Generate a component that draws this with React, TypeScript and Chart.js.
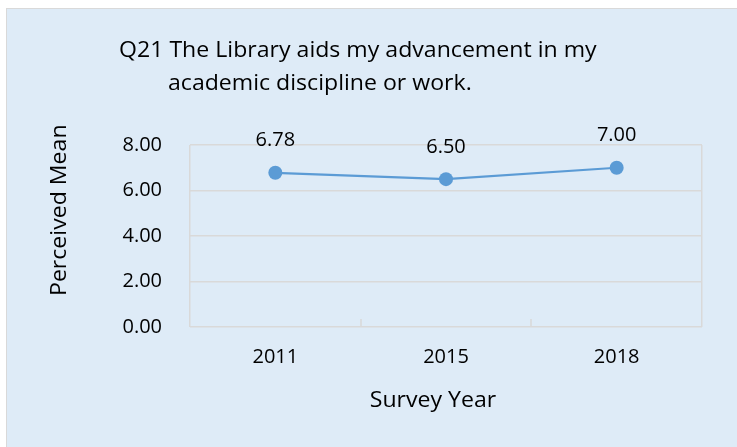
import React, { useEffect, useRef } from 'react';
import { Chart, registerables } from 'chart.js';

Chart.register(...registerables);

const categories = ['2011', '2015', '2018'];
const perceivedMean = [6.78, 6.5, 7.0];
const yMin = 0;
const yMax = 8;
const yStep = 2;
const titleLines = ['Q21 The Library aids my advancement in my', 'academic discipline or work.'];
const xAxisTitle = 'Survey Year';
const yAxisTitle = 'Perceived Mean';

const FONT = '"Open Sans", Calibri, Carlito, sans-serif';
const TEXT = '#000000';
const GRID = '#D9D9D9';
const LINE = '#5B9BD5';
const STRETCH = 1.1;

function drawText(ctx: any, text: string, x: number, y: number, align: string, rotate = 0) {
  ctx.save();
  ctx.translate(x, y);
  if (rotate) ctx.rotate(rotate);
  ctx.scale(STRETCH, 1);
  ctx.textAlign = align;
  ctx.textBaseline = 'alphabetic';
  ctx.fillText(text, 0, 0);
  ctx.restore();
}

const overlayPlugin = {
  id: 'overlayTexts',
  beforeDatasetsDraw(chart: any) {
    const ctx = chart.ctx;
    const xs = chart.scales.x;
    const area = chart.chartArea;
    ctx.save();
    ctx.strokeStyle = GRID;
    ctx.lineWidth = 1.5;
    ctx.beginPath();
    for (let i = 0; i < categories.length - 1; i++) {
      const px = Math.round((xs.getPixelForValue(i) + xs.getPixelForValue(i + 1)) / 2);
      ctx.moveTo(px, area.bottom);
      ctx.lineTo(px, area.bottom - 8);
    }
    ctx.stroke();
    ctx.restore();
  },
  afterDatasetsDraw(chart: any) {
    const ctx = chart.ctx;
    const meta = chart.getDatasetMeta(0);
    ctx.save();
    ctx.fillStyle = TEXT;
    ctx.font = `20px ${FONT}`;
    ctx.textAlign = 'center';
    ctx.textBaseline = 'middle';
    meta.data.forEach((pt: any, i: number) => {
      ctx.fillText(perceivedMean[i].toFixed(2), pt.x, pt.y - 32);
    });
    ctx.restore();
  },
  afterDraw(chart: any) {
    const ctx = chart.ctx;
    ctx.save();
    ctx.fillStyle = TEXT;
    ctx.font = `21px ${FONT}`;
    drawText(ctx, titleLines[0], 119, 57, 'left');
    drawText(ctx, titleLines[1], 168, 90, 'left');
    drawText(ctx, xAxisTitle, 433, 407, 'center');
    drawText(ctx, yAxisTitle, 66, 296, 'left', -Math.PI / 2);
    ctx.restore();
  },
};

export default function App() {
  const canvasRef = useRef<HTMLCanvasElement | null>(null);

  useEffect(() => {
    if (!canvasRef.current) return;
    const chart = new Chart(canvasRef.current, {
      type: 'line',
      data: {
        labels: categories,
        datasets: [
          {
            label: 'Perceived Mean',
            data: perceivedMean,
            borderColor: LINE,
            backgroundColor: LINE,
            borderWidth: 2.25,
            pointRadius: 7,
            pointBackgroundColor: LINE,
            pointBorderColor: LINE,
            pointBorderWidth: 0,
            tension: 0,
            clip: false as any,
          },
        ],
      },
      options: {
        animation: false,
        responsive: false,
        maintainAspectRatio: false,
        layout: { padding: { top: 145, right: 35, bottom: 0, left: 0 } },
        plugins: {
          legend: { display: false },
          tooltip: { enabled: false },
          title: { display: false },
        },
        scales: {
          x: {
            type: 'category',
            offset: true,
            grid: {
              offset: true,
              drawTicks: false,
              lineWidth: 1.5,
              color: (c: any) => (c.type !== 'tick' || c.index === 0 ? GRID : 'rgba(0,0,0,0)'),
            },
            border: { display: false },
            ticks: { padding: 18, color: TEXT, font: { family: FONT, size: 20 } },
            afterFit: (s: any) => {
              s.height = 120;
            },
          },
          y: {
            min: yMin,
            max: yMax,
            grid: { color: GRID, lineWidth: 1.5, drawTicks: false },
            border: { display: false },
            ticks: {
              stepSize: yStep,
              padding: 28,
              color: TEXT,
              font: { family: FONT, size: 20 },
              callback: (v: any) => Number(v).toFixed(2),
            },
            afterFit: (s: any) => {
              s.width = 190;
            },
          },
        },
      },
      plugins: [overlayPlugin],
    });
    return () => chart.destroy();
  }, []);

  return (
    <div style={{ position: 'fixed', left: 0, top: 0, width: 737, height: 447, background: '#FFFFFF', overflow: 'hidden' }}>
      <div
        style={{
          position: 'absolute',
          left: 6,
          top: 8,
          right: 0,
          bottom: 0,
          background: '#DEEBF7',
          borderLeft: '1px solid #D9D9D9',
          borderTop: '1px solid #D9D9D9',
        }}
      />
      <canvas ref={canvasRef} width={737} height={447} style={{ position: 'absolute', left: 0, top: 0, display: 'block' }} />
    </div>
  );
}
